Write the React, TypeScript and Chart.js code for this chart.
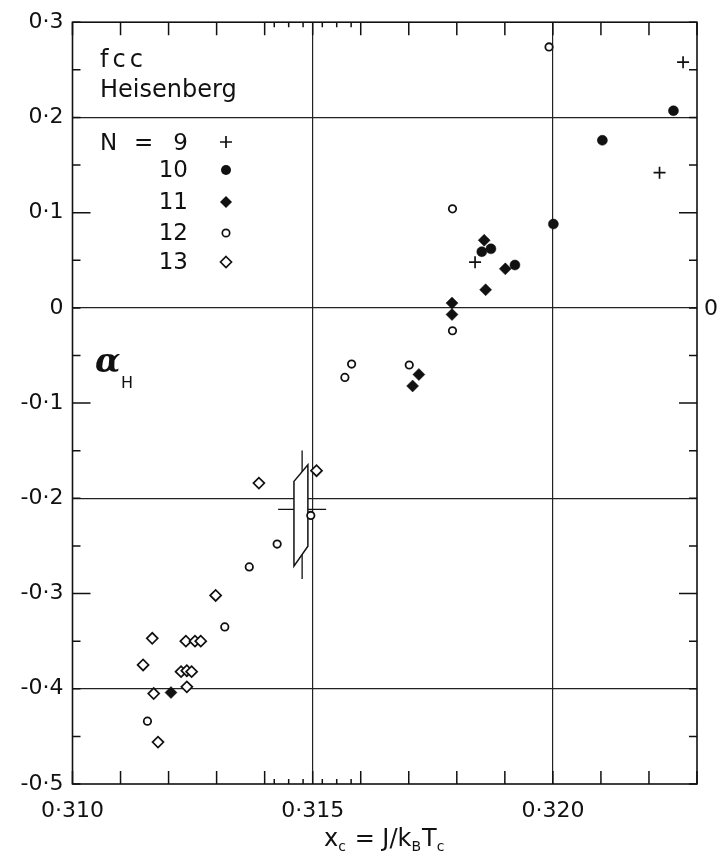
import { useEffect, useRef } from 'react';
import { Chart, registerables } from 'chart.js';

Chart.register(...registerables);

// ---- data (x_c, alpha_H) ----
const n9X = [0.32271, 0.32222, 0.31838];
const n9Y = [0.258, 0.142, 0.048];
const n10X = [0.32251, 0.32103, 0.32001, 0.31852, 0.31871, 0.31921];
const n10Y = [0.207, 0.176, 0.088, 0.059, 0.062, 0.045];
const n11X = [0.31857, 0.31901, 0.3186, 0.3179, 0.3179, 0.31721, 0.31708, 0.31205];
const n11Y = [0.071, 0.041, 0.019, 0.005, -0.007, -0.07, -0.082, -0.404];
const n12X = [0.31992, 0.31791, 0.31791, 0.31581, 0.31567, 0.31701, 0.31496, 0.31426, 0.31368, 0.31317, 0.31156];
const n12Y = [0.274, 0.104, -0.024, -0.059, -0.073, -0.06, -0.218, -0.248, -0.272, -0.335, -0.434];
const n13X = [0.31508, 0.31388, 0.31298, 0.31166, 0.31236, 0.31255, 0.31267, 0.31147, 0.31226, 0.31238, 0.31248, 0.31238, 0.31169, 0.31178];
const n13Y = [-0.171, -0.184, -0.302, -0.347, -0.35, -0.35, -0.35, -0.375, -0.382, -0.381, -0.382, -0.398, -0.405, -0.456];

// estimate with error symbol
const estX = 0.31478;
const estY = -0.2115;
const estBarX = [0.31428, 0.31528];
const estBarY = [-0.1497, -0.2848];
const boxX = [0.31461, 0.3149, 0.3149, 0.31461];
const boxY = [-0.1822, -0.1647, -0.2503, -0.2712];

// axes
const xMin = 0.31;
const xMax = 0.323;
const yMin = -0.5;
const yMax = 0.3;
const xLabelled = [0.31, 0.315, 0.32];
const xGrid = [0.315, 0.32];
const yGrid = [0.2, 0, -0.2, -0.4];
const yLong = [0.1, -0.1, -0.3];
const xMinor = [0.3142, 0.3145, 0.3148, 0.3152, 0.3155, 0.3158];

const legendN = ['9', '10', '11', '12', '13'];

const INK = '#111';
const FONT = "'DejaVu Sans', sans-serif";

const near = (a: number, list: number[]) => list.some((v) => Math.abs(v - a) < 1e-7);
const zip = (xs: number[], ys: number[]) => xs.map((x, i) => ({ x, y: ys[i] }));

function marker(ctx: CanvasRenderingContext2D, kind: string, x: number, y: number) {
  ctx.save();
  ctx.strokeStyle = INK;
  ctx.fillStyle = INK;
  ctx.lineWidth = 1.7;
  ctx.beginPath();
  if (kind === '9') {
    ctx.moveTo(x - 6, y); ctx.lineTo(x + 6, y);
    ctx.moveTo(x, y - 6); ctx.lineTo(x, y + 6);
    ctx.stroke();
  } else if (kind === '10') {
    ctx.arc(x, y, 5, 0, Math.PI * 2); ctx.fill();
  } else if (kind === '11') {
    ctx.moveTo(x, y - 6); ctx.lineTo(x + 6, y); ctx.lineTo(x, y + 6); ctx.lineTo(x - 6, y); ctx.closePath(); ctx.fill();
  } else if (kind === '12') {
    ctx.fillStyle = '#fff';
    ctx.arc(x, y, 3.7, 0, Math.PI * 2); ctx.fill(); ctx.stroke();
  } else {
    ctx.fillStyle = '#fff';
    ctx.moveTo(x, y - 5.5); ctx.lineTo(x + 5.5, y); ctx.lineTo(x, y + 5.5); ctx.lineTo(x - 5.5, y); ctx.closePath(); ctx.fill(); ctx.stroke();
  }
  ctx.restore();
}

const decor = {
  id: 'decor',
  beforeDatasetsDraw(chart: any) {
    const ctx: CanvasRenderingContext2D = chart.ctx;
    const { left, right, top, bottom } = chart.chartArea;
    const xs = chart.scales.x;
    const ys = chart.scales.y;
    ctx.save();
    ctx.strokeStyle = INK;
    ctx.lineCap = 'butt';
    // ticks
    ctx.lineWidth = 1.5;
    ctx.beginPath();
    for (let i = 0; i <= 13; i++) {
      const px = xs.getPixelForValue(xMin + i * 0.001);
      ctx.moveTo(px, bottom); ctx.lineTo(px, bottom - 13);
      ctx.moveTo(px, top); ctx.lineTo(px, top + 13);
    }
    for (const v of xMinor) {
      const px = xs.getPixelForValue(v);
      ctx.moveTo(px, bottom); ctx.lineTo(px, bottom - 5);
      ctx.moveTo(px, top); ctx.lineTo(px, top + 5);
    }
    for (let i = -10; i <= 6; i++) {
      const v = i * 0.05;
      const py = ys.getPixelForValue(v);
      const len = near(v, yLong) ? 18 : 8;
      ctx.moveTo(left, py); ctx.lineTo(left + len, py);
      ctx.moveTo(right, py); ctx.lineTo(right - len, py);
    }
    ctx.stroke();
    // frame
    ctx.lineWidth = 1.6;
    ctx.strokeRect(left, top, right - left, bottom - top);

    // error cross
    ctx.lineWidth = 1.3;
    ctx.beginPath();
    ctx.moveTo(xs.getPixelForValue(estBarX[0]), ys.getPixelForValue(estY));
    ctx.lineTo(xs.getPixelForValue(estBarX[1]), ys.getPixelForValue(estY));
    ctx.moveTo(xs.getPixelForValue(estX), ys.getPixelForValue(estBarY[0]));
    ctx.lineTo(xs.getPixelForValue(estX), ys.getPixelForValue(estBarY[1]));
    ctx.stroke();
    // parallelogram
    ctx.beginPath();
    boxX.forEach((bx, i) => {
      const px = xs.getPixelForValue(bx);
      const py = ys.getPixelForValue(boxY[i]);
      if (i === 0) ctx.moveTo(px, py); else ctx.lineTo(px, py);
    });
    ctx.closePath();
    ctx.fillStyle = '#fff';
    ctx.fill();
    ctx.lineWidth = 1.5;
    ctx.stroke();
    ctx.restore();
  },
  afterDatasetsDraw(chart: any) {
    const ctx: CanvasRenderingContext2D = chart.ctx;
    const ys = chart.scales.y;
    const { left, right } = chart.chartArea;
    ctx.save();
    ctx.fillStyle = INK;
    ctx.textBaseline = 'alphabetic';
    ctx.textAlign = 'left';
    ctx.font = `24px ${FONT}`;
    (ctx as any).letterSpacing = '4px';
    ctx.fillText('fcc', 100, 67);
    (ctx as any).letterSpacing = '0px';
    ctx.fillText('Heisenberg', 100, 97);

    // legend
    ctx.font = `23px ${FONT}`;
    const rowsBase = [150, 177, 209, 240, 269];
    const rowsMark = [142, 170, 202, 233, 262];
    ctx.fillText('N', 100, rowsBase[0]);
    ctx.fillText('=', 134, rowsBase[0]);
    ctx.textAlign = 'right';
    legendN.forEach((n, i) => {
      ctx.fillText(n, 188, rowsBase[i]);
      marker(ctx, n, 226, rowsMark[i]);
    });

    // alpha_H
    ctx.textAlign = 'left';
    ctx.font = `italic bold 33px 'DejaVu Serif', serif`;
    ctx.fillText('α', 95, 372);
    ctx.font = `16px ${FONT}`;
    ctx.fillText('H', 121, 388);

    // right-hand 0 label
    ctx.font = `22px ${FONT}`;
    ctx.textBaseline = 'middle';
    ctx.fillText('0', right + 7, ys.getPixelForValue(0) + 1);

    // x title: x_c = J/k_B T_c
    ctx.textBaseline = 'alphabetic';
    const parts: [string, boolean][] = [['x', false], ['c', true], [' = J/k', false], ['B', true], ['T', false], ['c', true]];
    const mainF = `24px ${FONT}`;
    const subF = `14px ${FONT}`;
    let total = 0;
    for (const [t, sub] of parts) { ctx.font = sub ? subF : mainF; total += ctx.measureText(t).width + (sub ? 1 : 0); }
    let cx = (left + right) / 2 - total / 2;
    const base = 846;
    for (const [t, sub] of parts) {
      ctx.font = sub ? subF : mainF;
      ctx.fillText(t, cx, sub ? base + 5 : base);
      cx += ctx.measureText(t).width + (sub ? 1 : 0);
    }
    ctx.restore();
  },
};

export default function App() {
  const ref = useRef<HTMLCanvasElement>(null);
  useEffect(() => {
    if (!ref.current) return;
    const open = '#fff';
    const chart = new Chart(ref.current, {
      type: 'scatter',
      data: {
        datasets: [
          { label: 'N = 9', data: zip(n9X, n9Y), pointStyle: 'cross', radius: 6, borderWidth: 1.7, borderColor: INK, backgroundColor: INK },
          { label: '10', data: zip(n10X, n10Y), pointStyle: 'circle', radius: 5, borderWidth: 0.5, borderColor: INK, backgroundColor: INK },
          { label: '11', data: zip(n11X, n11Y), pointStyle: 'rectRot', radius: 6, borderWidth: 0.5, borderColor: INK, backgroundColor: INK },
          { label: '12', data: zip(n12X, n12Y), pointStyle: 'circle', radius: 3.7, borderWidth: 1.8, borderColor: INK, backgroundColor: open },
          { label: '13', data: zip(n13X, n13Y), pointStyle: 'rectRot', radius: 5.5, borderWidth: 1.7, borderColor: INK, backgroundColor: open },
        ],
      },
      options: {
        responsive: false,
        animation: false,
        events: [],
        layout: { padding: { top: 21, right: 20, left: 0, bottom: 0 } },
        plugins: { legend: { display: false }, tooltip: { enabled: false }, title: { display: false } },
        scales: {
          x: {
            type: 'linear',
            min: xMin,
            max: xMax,
            afterFit: (s: any) => { s.height = 73; },
            border: { display: false },
            grid: {
              drawTicks: false,
              lineWidth: 1.2,
              color: (c: any) => (c.tick && near(c.tick.value, xGrid) ? '#222' : 'rgba(0,0,0,0)'),
            },
            ticks: {
              stepSize: 0.001,
              autoSkip: false,
              maxRotation: 0,
              padding: 14,
              color: INK,
              font: { family: FONT, size: 22 },
              callback: (v: any) => (near(Number(v), xLabelled) ? Number(v).toFixed(3).replace('.', '·') : ''),
            },
          },
          y: {
            type: 'linear',
            min: yMin,
            max: yMax,
            afterFit: (s: any) => { s.width = 72.5; },
            border: { display: false },
            grid: {
              drawTicks: false,
              lineWidth: 1.2,
              color: (c: any) => (c.tick && near(c.tick.value, yGrid) ? '#222' : 'rgba(0,0,0,0)'),
            },
            ticks: {
              stepSize: 0.05,
              autoSkip: false,
              padding: 9,
              color: INK,
              font: { family: FONT, size: 22 },
              callback: (v: any) => {
                const n = Number(v);
                const k = Math.round(n * 10);
                if (Math.abs(n * 10 - k) > 1e-6) return '';
                if (k === 0) return '0';
                return (k < 0 ? '-' : '') + '0·' + Math.abs(k);
              },
            },
          },
        },
      },
      plugins: [decor],
    });
    return () => chart.destroy();
  }, []);
  return (
    <div style={{ position: 'absolute', left: 0, top: 0, width: 717, height: 857, background: '#fff' }}>
      <canvas ref={ref} width={717} height={857} style={{ display: 'block' }} />
    </div>
  );
}
